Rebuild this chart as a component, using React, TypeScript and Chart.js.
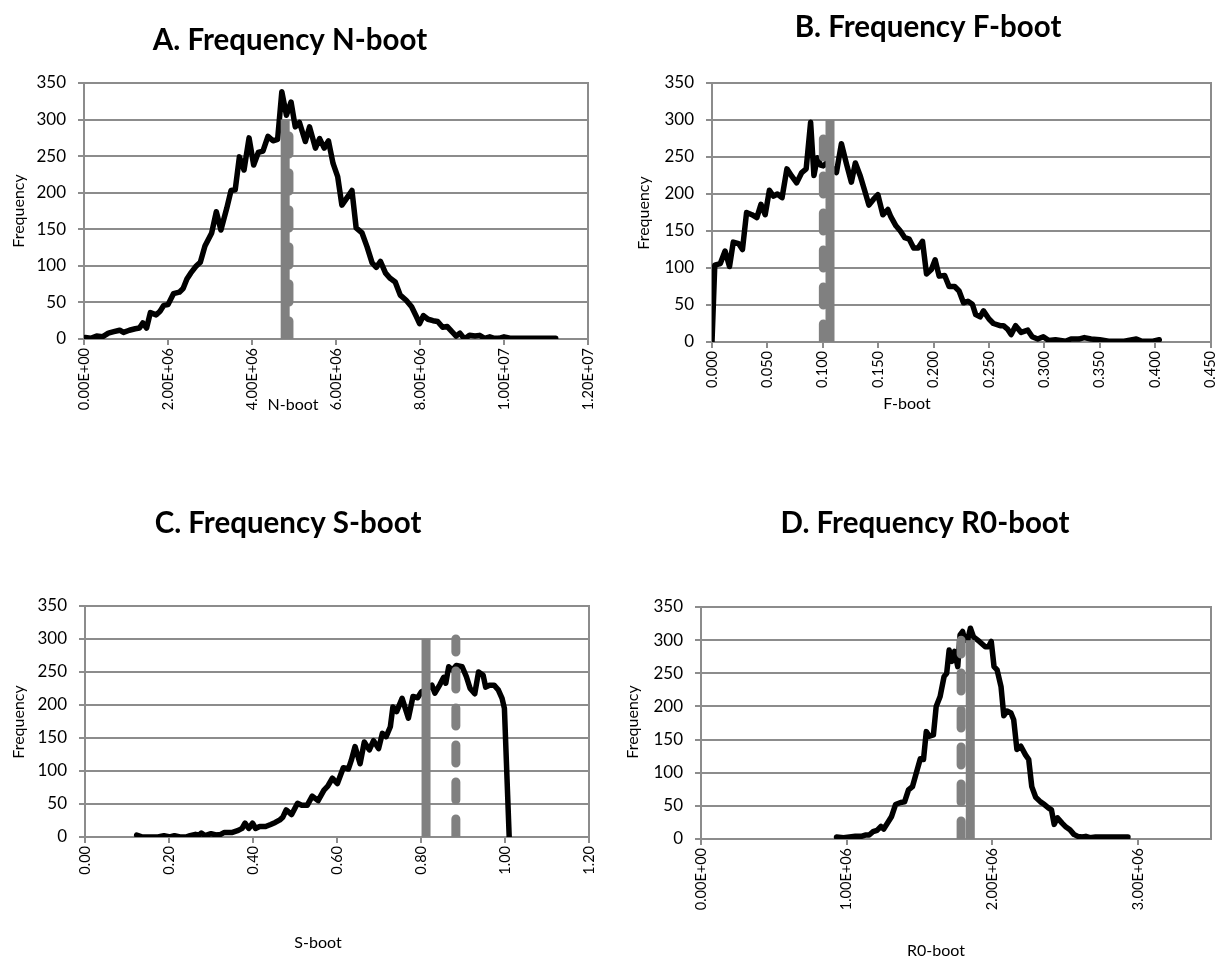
import React, { useEffect, useRef } from "react";
import { Chart, registerables } from "chart.js";

Chart.register(...registerables);

const FONT = "Lato, 'Open Sans', sans-serif";
const GRID = "#8c8c8c";
const LINE_GRAY = "#808080";

// ---------- Panel A: N-boot ----------
const nBootX = [
  0.03e6, 0.16e6, 0.3e6, 0.44e6, 0.58e6, 0.71e6, 0.85e6, 0.94e6, 1.08e6, 1.22e6, 1.32e6, 1.4e6, 1.49e6,
  1.58e6, 1.72e6, 1.81e6, 1.9e6, 2.0e6, 2.13e6, 2.27e6, 2.36e6, 2.45e6, 2.54e6, 2.66e6, 2.77e6, 2.88e6,
  3.04e6, 3.15e6, 3.26e6, 3.4e6, 3.5e6, 3.6e6, 3.7e6, 3.81e6, 3.93e6, 4.04e6, 4.15e6, 4.26e6, 4.38e6,
  4.5e6, 4.61e6, 4.71e6, 4.82e6, 4.93e6, 5.03e6, 5.13e6, 5.27e6, 5.37e6, 5.51e6, 5.61e6, 5.72e6, 5.82e6,
  5.93e6, 6.04e6, 6.14e6, 6.26e6, 6.38e6, 6.48e6, 6.62e6, 6.74e6, 6.86e6, 6.96e6, 7.06e6, 7.18e6, 7.29e6,
  7.41e6, 7.53e6, 7.67e6, 7.8e6, 7.91e6, 7.99e6, 8.08e6, 8.19e6, 8.31e6, 8.42e6, 8.54e6, 8.65e6, 8.76e6,
  8.86e6, 8.95e6, 9.06e6, 9.18e6, 9.31e6, 9.42e6, 9.54e6, 9.66e6, 9.77e6, 9.88e6, 10.0e6, 10.14e6,
  10.3e6, 10.5e6, 10.7e6, 10.9e6, 11.1e6, 11.23e6,
];
const nBootFreq = [
  2, 1, 4, 3, 8, 10, 12, 9, 12, 14, 15, 22, 15,
  36, 33, 38, 46, 47, 62, 64, 69, 82, 90, 99, 105, 127,
  145, 174, 149, 179, 203, 204, 249, 231, 275, 238, 255, 257, 277,
  271, 273, 338, 306, 324, 290, 296, 270, 290, 261, 274, 261, 271,
  240, 222, 183, 193, 203, 152, 145, 126, 104, 98, 106, 90, 83,
  78, 60, 53, 44, 31, 21, 32, 27, 25, 24, 16, 17, 10,
  4, 8, 0, 5, 4, 5, 1, 3, 1, 1, 3, 1,
  1, 1, 1, 1, 1, 1,
];
const nBootSolid = 4.79e6;
const nBootDashed = 4.88e6;
const nBootTickValues = [0, 2e6, 4e6, 6e6, 8e6, 10e6, 12e6];
const nBootTickLabels = ["0.00E+00", "2.00E+06", "4.00E+06", "6.00E+06", "8.00E+06", "1.00E+07", "1.20E+07"];

// ---------- Panel B: F-boot ----------
const fBootX = [
  0, 0.0025, 0.0075, 0.0118, 0.0158, 0.0192, 0.024, 0.0275, 0.0312, 0.036, 0.0405, 0.0442, 0.048,
  0.0518, 0.0555, 0.059, 0.0632, 0.0676, 0.072, 0.0764, 0.081, 0.085, 0.089, 0.092, 0.095, 0.098,
  0.1005, 0.104, 0.108, 0.1123, 0.1168, 0.1213, 0.1258, 0.1294, 0.1339, 0.1377, 0.1416, 0.1458, 0.1497,
  0.1542, 0.1587, 0.1615, 0.166, 0.17, 0.174, 0.178, 0.182, 0.186, 0.19, 0.1936, 0.198, 0.2014, 0.205,
  0.21, 0.214, 0.219, 0.223, 0.227, 0.231, 0.235, 0.238, 0.242, 0.245, 0.25, 0.254, 0.26, 0.263, 0.267,
  0.27, 0.274, 0.279, 0.285, 0.289, 0.294, 0.299, 0.304, 0.31, 0.319, 0.324, 0.331, 0.336, 0.342, 0.35,
  0.358, 0.372, 0.383, 0.388, 0.398, 0.4037,
];
const fBootFreq = [
  0, 104, 106, 123, 102, 135, 133, 125, 175, 172, 168, 186, 172,
  205, 197, 200, 195, 234, 224, 215, 229, 234, 297, 225, 249, 239,
  238, 243, 236, 229, 268, 241, 216, 242, 224, 205, 185, 193, 199,
  172, 179, 169, 157, 150, 141, 139, 127, 127, 136, 92, 98, 111, 89,
  90, 75, 75, 69, 53, 55, 51, 37, 34, 42, 31, 25, 22, 22, 17,
  10, 22, 13, 16, 7, 4, 7, 2, 3, 1, 4, 4, 6, 4, 3,
  1, 1, 4, 1, 1, 3,
];
const fBootSolid = 0.1065;
const fBootDashed = 0.1005;
const fBootTickValues = [0, 0.05, 0.1, 0.15, 0.2, 0.25, 0.3, 0.35, 0.4, 0.45];
const fBootTickLabels = ["0.000", "0.050", "0.100", "0.150", "0.200", "0.250", "0.300", "0.350", "0.400", "0.450"];

// ---------- Panel C: S-boot ----------
const sBootX = [
  0.123, 0.137, 0.161, 0.174, 0.188, 0.202, 0.213, 0.226, 0.24, 0.25, 0.263, 0.272, 0.277, 0.286, 0.3,
  0.312, 0.323, 0.332, 0.351, 0.365, 0.374, 0.381, 0.39, 0.399, 0.406, 0.416, 0.43, 0.442, 0.453, 0.464,
  0.471, 0.479, 0.492, 0.506, 0.516, 0.529, 0.541, 0.555, 0.569, 0.578, 0.589, 0.601, 0.615, 0.627,
  0.634, 0.643, 0.655, 0.665, 0.677, 0.687, 0.699, 0.708, 0.717, 0.727, 0.733, 0.742, 0.755, 0.77,
  0.781, 0.792, 0.801, 0.812, 0.826, 0.833, 0.845, 0.854, 0.859, 0.866, 0.875, 0.884, 0.898, 0.908,
  0.917, 0.928, 0.937, 0.948, 0.954, 0.963, 0.974, 0.984, 0.993, 0.9986, 1.01,
];
const sBootFreq = [
  3, 0, 0, 0, 2, 0, 2, 0, 0, 2, 4, 3, 6, 2, 5,
  3, 4, 7, 7, 10, 13, 21, 13, 21, 13, 16, 16, 19, 22, 26,
  30, 41, 34, 51, 48, 48, 62, 55, 71, 77, 89, 81, 105, 103,
  116, 137, 111, 144, 132, 146, 134, 157, 152, 167, 197, 190, 210, 180,
  213, 211, 220, 223, 230, 218, 231, 242, 233, 258, 253, 260, 258, 243,
  225, 217, 250, 245, 227, 230, 230, 223, 210, 195, 0,
];
const sBootSolid = 0.812;
const sBootDashed = 0.883;
const sBootTickValues = [0, 0.2, 0.4, 0.6, 0.8, 1.0, 1.2];
const sBootTickLabels = ["0.00", "0.20", "0.40", "0.60", "0.80", "1.00", "1.20"];

// ---------- Panel D: R0-boot ----------
const rBootX = [
  0.93e6, 0.978e6, 1.019e6, 1.059e6, 1.1e6, 1.127e6, 1.154e6, 1.18e6, 1.208e6, 1.235e6, 1.254e6, 1.28e6,
  1.308e6, 1.335e6, 1.37e6, 1.397e6, 1.424e6, 1.451e6, 1.478e6, 1.505e6, 1.527e6, 1.546e6, 1.568e6,
  1.595e6, 1.614e6, 1.641e6, 1.668e6, 1.686e6, 1.703e6, 1.722e6, 1.74e6, 1.762e6, 1.778e6, 1.795e6,
  1.811e6, 1.83e6, 1.849e6, 1.87e6, 1.91e6, 1.951e6, 1.973e6, 1.992e6, 2.011e6, 2.032e6, 2.059e6,
  2.078e6, 2.1e6, 2.127e6, 2.146e6, 2.168e6, 2.195e6, 2.227e6, 2.249e6, 2.27e6, 2.297e6, 2.33e6,
  2.357e6, 2.384e6, 2.405e6, 2.424e6, 2.446e6, 2.478e6, 2.505e6, 2.532e6, 2.559e6, 2.586e6, 2.614e6,
  2.641e6, 2.668e6, 2.708e6, 2.749e6, 2.795e6, 2.843e6, 2.897e6, 2.93e6,
];
const rBootFreq = [
  3, 2, 3, 4, 4, 6, 6, 11, 13, 19, 15, 24,
  34, 52, 55, 56, 74, 79, 100, 121, 120, 162, 155,
  157, 200, 215, 245, 250, 285, 268, 283, 260, 308, 313,
  300, 300, 318, 305, 298, 290, 290, 298, 260, 255, 230,
  186, 193, 190, 180, 135, 140, 127, 120, 79, 63, 56,
  52, 47, 44, 22, 32, 24, 18, 14, 7, 4, 3,
  4, 2, 3, 3, 3, 3, 3, 3,
];
const rBootSolid = 1.848e6;
const rBootDashed = 1.785e6;
const rBootTickValues = [0, 1e6, 2e6, 3e6];
const rBootTickLabels = ["0.00E+00", "1.00E+06", "2.00E+06", "3.00E+06"];

const freqMax = 350;
const freqStep = 50;
const markerTop = 300;

type Area = { left: number; right: number; top: number; bottom: number };
type PanelCfg = {
  xs: number[];
  ys: number[];
  solidAt: number;
  dashedAt: number;
  xMax: number;
  tickValues: number[];
  tickLabels: string[];
  area: Area;
  title: string;
  titlePos: [number, number];
  xTitle: string;
  xTitlePos: [number, number];
  yTitlePos: [number, number];
};

const Y_AXIS_W = 70;
const X_AXIS_H = 80;
const PAGE_W = 1231;
const PAGE_H = 964;

const decorPlugin = {
  id: "decor",
  beforeDatasetsDraw(chart: any) {
    const { ctx, chartArea } = chart;
    ctx.save();
    ctx.strokeStyle = GRID;
    ctx.lineWidth = 2;
    ctx.beginPath();
    ctx.moveTo(Math.round(chartArea.right), chartArea.top - 1);
    ctx.lineTo(Math.round(chartArea.right), chartArea.bottom + 1);
    ctx.stroke();
    ctx.restore();
  },
  afterDraw(chart: any, _args: any, opts: any) {
    const { ctx } = chart;
    ctx.save();
    ctx.fillStyle = "#000";
    ctx.textAlign = "center";
    ctx.textBaseline = "alphabetic";
    ctx.font = `bold 29.5px ${FONT}`;
    ctx.fillText(opts.title, opts.titlePos[0], opts.titlePos[1]);
    ctx.font = `16px ${FONT}`;
    ctx.fillText(opts.xTitle, opts.xTitlePos[0], opts.xTitlePos[1]);
    ctx.translate(opts.yTitlePos[0], opts.yTitlePos[1]);
    ctx.rotate(-Math.PI / 2);
    ctx.textBaseline = "middle";
    ctx.fillText("Frequency", 0, 0);
    ctx.restore();
  },
};

function buildConfig(cfg: PanelCfg): any {
  const { area } = cfg;
  return {
    type: "line",
    data: {
      datasets: [
        {
          data: cfg.xs.map((x, i) => ({ x, y: cfg.ys[i] })),
          borderColor: "#000",
          borderWidth: 5.5,
          pointRadius: 0,
          tension: 0,
          fill: false,
          borderJoinStyle: "round",
          borderCapStyle: "round",
          order: 2,
        },
        {
          data: [
            { x: cfg.dashedAt, y: 0 },
            { x: cfg.dashedAt, y: markerTop },
          ],
          borderColor: LINE_GRAY,
          borderWidth: 9,
          pointRadius: 0,
          fill: false,
          borderDash: [18, 19],
          borderCapStyle: "round",
          order: 1,
        },
        {
          data: [
            { x: cfg.solidAt, y: 0 },
            { x: cfg.solidAt, y: markerTop },
          ],
          borderColor: LINE_GRAY,
          borderWidth: 9,
          pointRadius: 0,
          fill: false,
          borderCapStyle: "butt",
          order: 0,
        },
      ],
    },
    options: {
      responsive: false,
      animation: false,
      devicePixelRatio: 1,
      layout: {
        padding: {
          left: area.left - Y_AXIS_W,
          right: PAGE_W - area.right,
          top: area.top,
          bottom: PAGE_H - area.bottom - X_AXIS_H,
        },
      },
      plugins: {
        legend: { display: false },
        tooltip: { enabled: false },
        title: { display: false },
        decor: {
          title: cfg.title,
          titlePos: cfg.titlePos,
          xTitle: cfg.xTitle,
          xTitlePos: cfg.xTitlePos,
          yTitlePos: cfg.yTitlePos,
        },
      },
      scales: {
        x: {
          type: "linear",
          min: 0,
          max: cfg.xMax,
          afterFit: (s: any) => {
            s.height = X_AXIS_H;
          },
          afterBuildTicks: (axis: any) => {
            axis.ticks = cfg.tickValues.map((v) => ({ value: v }));
          },
          grid: {
            display: true,
            drawOnChartArea: false,
            drawTicks: true,
            tickLength: 6,
            color: GRID,
            lineWidth: 2,
          },
          border: { display: true, color: GRID, width: 2 },
          ticks: {
            autoSkip: false,
            minRotation: 90,
            maxRotation: 90,
            padding: 3,
            color: "#000",
            font: { family: FONT, size: 14.5 },
            callback: (_value: number, index: number) => cfg.tickLabels[index] ?? "",
          },
        },
        y: {
          min: 0,
          max: freqMax,
          afterFit: (s: any) => {
            s.width = Y_AXIS_W;
          },
          grid: {
            color: GRID,
            lineWidth: 2,
            tickLength: 6,
            drawTicks: true,
          },
          border: { display: true, color: GRID, width: 2 },
          ticks: {
            stepSize: freqStep,
            padding: 12,
            color: "#000",
            font: { family: FONT, size: 17 },
          },
        },
      },
    },
    plugins: [decorPlugin],
  };
}

const panels: PanelCfg[] = [
  {
    xs: nBootX,
    ys: nBootFreq,
    solidAt: nBootSolid,
    dashedAt: nBootDashed,
    xMax: 12e6,
    tickValues: nBootTickValues,
    tickLabels: nBootTickLabels,
    area: { left: 84, right: 588, top: 83, bottom: 339 },
    title: "A. Frequency N-boot",
    titlePos: [290, 50],
    xTitle: "N-boot",
    xTitlePos: [293, 410],
    yTitlePos: [19, 211],
  },
  {
    xs: fBootX,
    ys: fBootFreq,
    solidAt: fBootSolid,
    dashedAt: fBootDashed,
    xMax: 0.45,
    tickValues: fBootTickValues,
    tickLabels: fBootTickLabels,
    area: { left: 712, right: 1211, top: 83, bottom: 342 },
    title: "B. Frequency F-boot",
    titlePos: [928, 37],
    xTitle: "F-boot",
    xTitlePos: [907, 409],
    yTitlePos: [644, 213],
  },
  {
    xs: sBootX,
    ys: sBootFreq,
    solidAt: sBootSolid,
    dashedAt: sBootDashed,
    xMax: 1.2,
    tickValues: sBootTickValues,
    tickLabels: sBootTickLabels,
    area: { left: 85, right: 589, top: 606, bottom: 837 },
    title: "C. Frequency S-boot",
    titlePos: [288, 533],
    xTitle: "S-boot",
    xTitlePos: [318, 948],
    yTitlePos: [19, 722],
  },
  {
    xs: rBootX,
    ys: rBootFreq,
    solidAt: rBootSolid,
    dashedAt: rBootDashed,
    xMax: 3.5e6,
    tickValues: rBootTickValues,
    tickLabels: rBootTickLabels,
    area: { left: 701, right: 1211, top: 607, bottom: 839 },
    title: "D. Frequency R0-boot",
    titlePos: [925, 533],
    xTitle: "R0-boot",
    xTitlePos: [936, 956],
    yTitlePos: [633, 722],
  },
];

function Panel({ cfg }: { cfg: PanelCfg }) {
  const ref = useRef<HTMLCanvasElement>(null);
  useEffect(() => {
    if (!ref.current) return;
    const chart = new Chart(ref.current, buildConfig(cfg));
    return () => chart.destroy();
  }, [cfg]);
  return (
    <canvas
      ref={ref}
      width={PAGE_W}
      height={PAGE_H}
      style={{ position: "absolute", left: 0, top: 0, width: PAGE_W, height: PAGE_H }}
    />
  );
}

export default function App() {
  return (
    <div
      style={{
        position: "absolute",
        left: 0,
        top: 0,
        width: PAGE_W,
        height: PAGE_H,
        background: "#fff",
        overflow: "hidden",
      }}
    >
      {panels.map((p, i) => (
        <Panel key={i} cfg={p} />
      ))}
    </div>
  );
}
